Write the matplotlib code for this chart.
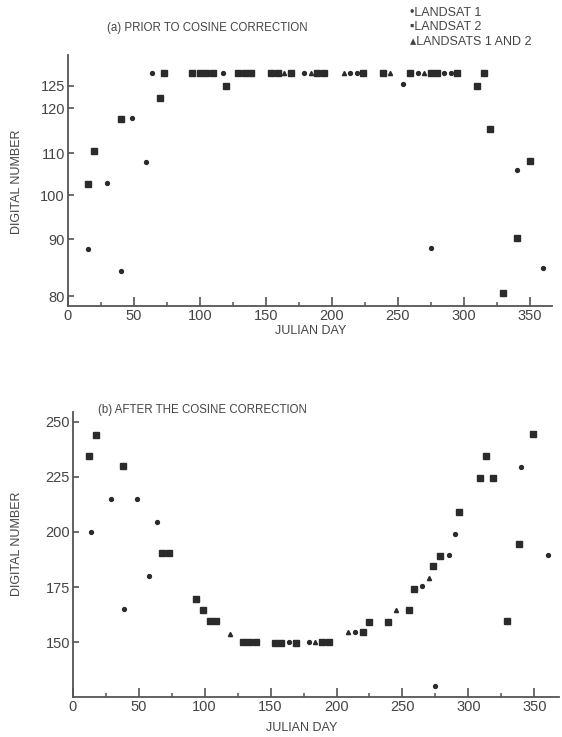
import matplotlib
matplotlib.use("Agg")
import numpy as np
import matplotlib.pyplot as plt
from matplotlib.ticker import MultipleLocator

C_INK = "#2b2b2b"; C_AXIS = "#555555"; C_TEXT = "#444444"
FONT = ["Liberation Sans", "DejaVu Sans"]
plt.rcParams["font.family"] = FONT

# (a) prior to cosine correction
a_l1_day = [15, 29.5, 40, 49, 59, 64, 118, 179, 214, 219, 254, 265, 275, 285, 290, 340, 360]
a_l1_dn = [88.2, 102.9, 84.4, 117.7, 107.9, 128, 128, 128, 128, 128, 125.5, 128, 88.4, 128, 128, 106, 84.9]

a_l2_day = [15, 20, 40, 70, 73, 94, 100, 105, 110, 120, 129, 134, 139, 154, 159, 169, 189, 194,
            224, 239, 259, 275, 280, 295, 310, 315, 320, 330, 340, 350]
a_l2_dn = [102.6, 110.4, 117.5, 122.3, 128, 128, 128, 128, 128, 125, 128, 128, 128, 128, 128, 128, 128, 128,
           128, 128, 128, 128, 128, 128, 125, 128, 115.3, 80.5, 90.2, 108]

a_both_day = [164, 184, 209, 244, 270]
a_both_dn = [128, 128, 128, 128, 128]

# (b) after the cosine correction
b_l1_day = [14, 29, 39, 48.5, 58, 64, 164, 179, 214, 265, 275, 285, 290, 340, 360]
b_l1_dn = [200, 215, 165, 215, 180, 204.4, 150, 150, 154.6, 175.4, 130, 189.3, 199, 229.5, 189.5]

b_l2_day = [12, 18, 38, 68, 73, 93.5, 99, 104, 109, 129, 134, 139, 153, 158, 169, 189, 194, 220,
            225, 239, 255, 258.5, 273.5, 278.5, 293, 309, 313, 319, 329, 338, 349]
b_l2_dn = [234.6, 244, 229.8, 190.3, 190.3, 169.6, 164.4, 159.5, 159.5, 150, 150, 150, 149.4, 149.4, 149.4, 150, 150, 154.6,
           159.3, 159.3, 164.7, 174.2, 184.4, 189, 209.2, 224.5, 234.3, 224.5, 159.6, 194.4, 244.5]

b_both_day = [119, 184, 209, 245, 270]
b_both_dn = [153.6, 150, 154.6, 164.5, 179.3]

a_yticks = [80, 90, 100, 110, 120, 125]
b_yticks = [150, 175, 200, 225, 250]

# the printed y axis of (a) is not evenly spaced: piecewise-linear scale
A_KNOTS_V = np.array([60, 80, 90, 100, 110, 120, 125, 150])
A_KNOTS_P = np.array([-410, -296, -239, -195, -153, -108, -85.7, 24.3])


def a_fwd(v):
    return np.interp(v, A_KNOTS_V, A_KNOTS_P)


def a_inv(p):
    return np.interp(p, A_KNOTS_P, A_KNOTS_V)


def style_axes(ax, xmax, ylim, yticks):
    ax.set_xlim(0, xmax)
    ax.set_ylim(*ylim)
    for s in ("top", "right"):
        ax.spines[s].set_visible(False)
    for s in ("left", "bottom"):
        ax.spines[s].set_color(C_AXIS)
        ax.spines[s].set_linewidth(1.3)
    ax.xaxis.set_major_locator(MultipleLocator(50))
    ax.xaxis.set_minor_locator(MultipleLocator(25))
    ax.set_yticks(yticks)
    ax.yaxis.set_minor_locator(plt.NullLocator())
    ax.tick_params(axis="x", which="major", direction="in", length=6.5, width=1.2,
                   color=C_AXIS, labelsize=10.5, labelcolor=C_TEXT, pad=2)
    ax.tick_params(axis="x", which="minor", direction="in", length=3, width=1.1, color=C_AXIS)
    ax.tick_params(axis="y", which="major", direction="in", length=4, width=1.2,
                   color=C_AXIS, labelsize=10.5, labelcolor=C_TEXT, pad=2)


def scatter_sets(ax, l1, l2, both):
    ax.plot(*l1, ls="none", marker="o", ms=2.8, color=C_INK, mec=C_INK, clip_on=False)
    ax.plot(*l2, ls="none", marker="s", ms=3.8, color=C_INK, mec=C_INK, clip_on=False)
    ax.plot(*both, ls="none", marker="^", ms=3.0, color=C_INK, mec=C_INK, clip_on=False)


fig = plt.figure(figsize=(5.62, 7.37), dpi=100)
fig.patch.set_facecolor("white")

ax1 = fig.add_axes([0.1205, 0.5848, 0.862, 0.3406])
ax1.set_yscale("function", functions=(a_fwd, a_inv))
style_axes(ax1, 367, (78.25, 132), a_yticks)
scatter_sets(ax1, (a_l1_day, a_l1_dn), (a_l2_day, a_l2_dn), (a_both_day, a_both_dn))

ax2 = fig.add_axes([0.1294, 0.0539, 0.866, 0.3875])
style_axes(ax2, 369, (125, 254.5), b_yticks)
scatter_sets(ax2, (b_l1_day, b_l1_dn), (b_l2_day, b_l2_dn), (b_both_day, b_both_dn))

# titles
fig.text(0.368, 0.962, "(a) PRIOR TO COSINE CORRECTION", ha="center", va="center",
         fontsize=8.3, color=C_TEXT)
fig.text(0.174, 0.4437, "(b) AFTER THE COSINE CORRECTION", ha="left", va="center",
         fontsize=8.3, color=C_TEXT)

# legend as plain text lines
legend_rows = [("\u2022", "LANDSAT 1"), ("\u25aa", "LANDSAT 2"), ("\u25b4", "LANDSATS 1 AND 2")]
for i, (sym, lab) in enumerate(legend_rows):
    y = 1 - (13 + 14.5 * i) / 737
    fig.text(0.7295, y, sym + lab, ha="left", va="center", fontsize=9, color=C_TEXT)

# axis labels
for yc in (0.754, 0.262):
    fig.text(0.03, yc, "DIGITAL NUMBER", rotation=90, ha="center", va="center",
             fontsize=9, color=C_TEXT)
fig.text(0.552, 1 - 331 / 737, "JULIAN DAY", ha="center", va="center", fontsize=9, color=C_TEXT)
fig.text(0.537, 1 - 728 / 737, "JULIAN DAY", ha="center", va="center", fontsize=9, color=C_TEXT)

fig.savefig("out.png", dpi=100, facecolor=fig.get_facecolor())
plt.close(fig)
